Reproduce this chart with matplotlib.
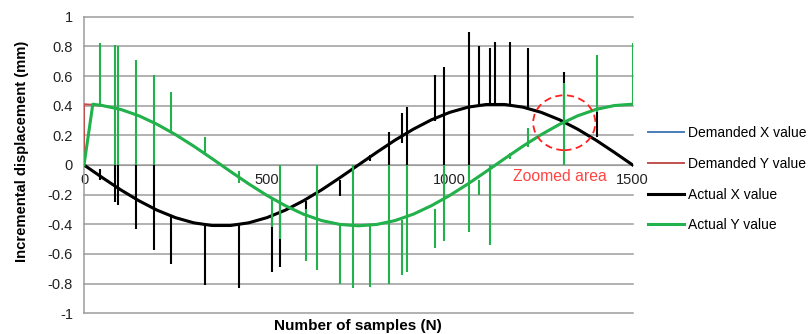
"""Demanded vs actual X/Y incremental displacement over 1500 samples."""
import matplotlib
matplotlib.use("Agg")
import matplotlib.pyplot as plt
from matplotlib.patches import Ellipse

plt.rcParams["font.family"] = ["Liberation Sans", "DejaVu Sans"]

# sample index of the smooth demanded curves
SAMPLES = list(range(0, 1501, 50))

DEMANDED_X = [0.000, -0.085, -0.167, -0.241, -0.305, -0.355, -0.390, -0.408,
              -0.408, -0.390, -0.355, -0.305, -0.241, -0.167, -0.085, 0.000,
              0.085, 0.167, 0.241, 0.305, 0.355, 0.390, 0.408, 0.408,
              0.390, 0.355, 0.305, 0.241, 0.167, 0.085, 0.000]
DEMANDED_Y = [0.410, 0.401, 0.375, 0.332, 0.274, 0.205, 0.127, 0.043,
              -0.043, -0.127, -0.205, -0.274, -0.332, -0.375, -0.401, -0.410,
              -0.401, -0.375, -0.332, -0.274, -0.205, -0.127, -0.043, 0.043,
              0.127, 0.205, 0.274, 0.332, 0.375, 0.401, 0.410]
# demanded Y jumps from 0 at the very first sample
DEMANDED_Y_N = [0] + SAMPLES
DEMANDED_Y_VALS = [0.0] + DEMANDED_Y

# actual traces follow the demand, actual Y ramps up over the first ~24 samples
ACTUAL_X_N = SAMPLES
ACTUAL_X = DEMANDED_X
ACTUAL_Y_N = [0, 24] + SAMPLES[1:]
ACTUAL_Y = [0.0, 0.41] + DEMANDED_Y[1:]

# single-sample glitches: (sample, from, to)
SPIKE_X_N = [44, 85, 92, 142, 192, 238, 332, 423, 515, 535, 607, 699, 736,
             783, 835, 869, 883, 960, 983, 1052, 1081, 1111, 1124, 1165,
             1214, 1311, 1403]
SPIKE_X_FROM = [-0.03, 0.0, 0.0, 0.0, 0.0, -0.34, -0.40, -0.40, -0.34, -0.25,
                -0.24, -0.10, -0.06, 0.03, 0.0, 0.15, 0.0, 0.30, 0.0, 0.0,
                0.39, 0.40, 0.41, 0.40, 0.37, 0.28, 0.19]
SPIKE_X_TO = [-0.10, -0.25, -0.27, -0.43, -0.57, -0.67, -0.81, -0.83, -0.72,
              -0.69, -0.31, -0.21, 0.0, 0.07, 0.22, 0.35, 0.39, 0.61, 0.66,
              0.90, 0.80, 0.79, 0.83, 0.83, 0.79, 0.63, 0.37]

SPIKE_Y_N = [44, 85, 92, 142, 192, 238, 332, 423, 515, 535, 607, 637, 699,
             736, 783, 835, 869, 883, 960, 983, 1052, 1081, 1111, 1165, 1214,
             1311, 1403, 1500]
SPIKE_Y_FROM = [0.41, 0.0, 0.0, 0.0, 0.0, 0.22, 0.07, -0.12, -0.22, 0.0,
                -0.30, 0.0, -0.39, 0.0, -0.41, 0.0, -0.37, 0.0, -0.30, 0.0,
                0.0, -0.10, 0.0, 0.04, 0.12, 0.0, 0.36, 0.41]
SPIKE_Y_TO = [0.82, 0.81, 0.80, 0.71, 0.61, 0.49, 0.19, -0.04, -0.42, -0.50,
              -0.65, -0.71, -0.80, -0.83, -0.82, -0.80, -0.74, -0.72, -0.56,
              -0.51, -0.45, -0.20, -0.54, 0.08, 0.25, 0.55, 0.74, 0.82]

X_TICKS = [0, 500, 1000, 1500]
Y_TICKS = [-1, -0.8, -0.6, -0.4, -0.2, 0, 0.2, 0.4, 0.6, 0.8, 1]
Y_TICK_LABELS = ["-1", "-0.8", "-0.6", "-0.4", "-0.2", "0", "0.2", "0.4",
                 "0.6", "0.8", "1"]

ZOOM_CENTER = (1313, 0.285)

C_DX = "#4a7ebb"
C_DY = "#c0504d"
C_AX = "#000000"
C_AY = "#22b24c"
C_GRID = "#9c9c9c"


def main():
    fig = plt.figure(figsize=(8.08, 3.34), dpi=100)
    ax = fig.add_axes([0.104, 0.062, 0.679, 0.888])

    ax.plot(SAMPLES, DEMANDED_X, color=C_DX, lw=1.4, label="Demanded X value",
            zorder=3)
    ax.plot(DEMANDED_Y_N, DEMANDED_Y_VALS, color=C_DY, lw=1.4,
            label="Demanded Y value", zorder=3)
    ax.plot(ACTUAL_X_N, ACTUAL_X, color=C_AX, lw=2.2, label="Actual X value",
            zorder=4)
    ax.vlines(SPIKE_X_N, SPIKE_X_FROM, SPIKE_X_TO, color=C_AX, lw=1.5,
              zorder=4)
    ax.plot(ACTUAL_Y_N, ACTUAL_Y, color=C_AY, lw=2.2, label="Actual Y value",
            zorder=5)
    ax.vlines(SPIKE_Y_N, SPIKE_Y_FROM, SPIKE_Y_TO, color=C_AY, lw=1.5,
              zorder=5)

    ax.add_patch(Ellipse(ZOOM_CENTER, 170, 0.37, fill=False, color="#ff2020",
                         lw=1.3, ls=(0, (4, 2.5)), zorder=6))
    ax.text(ZOOM_CENTER[0] - 12, -0.08, "Zoomed area", color="#ff4444",
            fontsize=11.3, ha="center", va="center", zorder=6)

    ax.set_xlim(0, 1500)
    ax.set_ylim(-1, 1)
    ax.set_xticks(X_TICKS)
    ax.set_yticks(Y_TICKS)
    ax.set_yticklabels(Y_TICK_LABELS)
    ax.tick_params(axis="both", length=0, labelsize=10.5, colors="#222222")
    ax.tick_params(axis="y", pad=8)
    ax.tick_params(axis="x", pad=6)

    ax.grid(True, axis="y", color=C_GRID, lw=1.1)
    for gl in ax.get_ygridlines():
        gl.set_clip_on(False)
    ax.set_axisbelow(True)
    for s in ("top", "right"):
        ax.spines[s].set_visible(False)
    ax.spines["bottom"].set_position(("data", 0))
    ax.spines["bottom"].set_color(C_GRID)
    ax.spines["left"].set_color(C_GRID)
    ax.spines["left"].set_linewidth(1.1)

    fig.text(0.027, 0.548, "Incremental displacement (mm)", rotation=90,
             ha="center", va="center", fontsize=10.6, fontweight="bold")
    fig.text(0.443, 0.025, "Number of samples (N)", ha="center",
             va="center", fontsize=11, fontweight="bold")

    fig.legend(loc="center left", bbox_to_anchor=(0.802, 0.463),
               frameon=False, fontsize=10, handlelength=2.6,
               handletextpad=0.25, labelspacing=1.2, borderpad=0,
               borderaxespad=0)

    fig.savefig("out.png", dpi=100)
    plt.close(fig)


if __name__ == "__main__":
    main()
